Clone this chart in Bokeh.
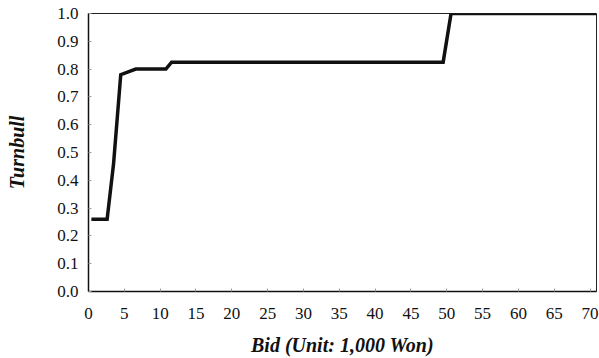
from bokeh.plotting import figure
from bokeh.embed import file_html
from bokeh.resources import INLINE
from bokeh.models import FixedTicker, NumeralTickFormatter, Range1d

bid = [0.4, 2.6, 3.5, 4.5, 6.6, 10.8, 11.6, 49.5, 50.6, 70.9]
turnbull = [0.26, 0.26, 0.46, 0.78, 0.80, 0.80, 0.825, 0.825, 1.0, 1.0]
x_ticks = list(range(0, 71, 5))
y_ticks = [i / 10 for i in range(0, 11)]

FONT = "Liberation Serif"

p = figure(width=599, height=358, output_backend="svg", toolbar_location=None,
           x_range=Range1d(0, 70.9), y_range=Range1d(0, 1.0),
           min_border_left=88, min_border_right=3, min_border_top=13, min_border_bottom=65)
p.grid.visible = False
p.background_fill_color = "white"
p.border_fill_color = "white"
p.outline_line_color = "#222222"
p.outline_line_width = 1

p.line(bid, turnbull, line_color="#111111", line_width=3.5, line_join="miter")

for ax in (p.xaxis[0], p.yaxis[0]):
    ax.major_label_text_font = FONT
    ax.major_label_text_font_size = "17px"
    ax.major_label_text_color = "#111111"
    ax.axis_line_color = "#111111"
    ax.axis_line_width = 1.5
    ax.major_tick_in = 3
    ax.major_tick_out = 0
    ax.major_tick_line_color = "#999999"
    ax.minor_tick_line_color = None

p.xaxis.ticker = FixedTicker(ticks=x_ticks)
p.yaxis.ticker = FixedTicker(ticks=y_ticks)
p.yaxis.formatter = NumeralTickFormatter(format="0.0")
p.xaxis.major_label_standoff = 16
p.yaxis.major_label_standoff = 10

p.xaxis.axis_label = "Bid (Unit: 1,000 Won)"
p.yaxis.axis_label = "Turnbull"
for ax in (p.xaxis[0], p.yaxis[0]):
    ax.axis_label_text_font = FONT
    ax.axis_label_text_font_size = "20px"
    ax.axis_label_text_font_style = "bold italic"
    ax.axis_label_text_color = "#111111"
p.xaxis.axis_label_standoff = 12
p.yaxis.axis_label_standoff = 26

open("out.html", "w").write(file_html(p, INLINE))
